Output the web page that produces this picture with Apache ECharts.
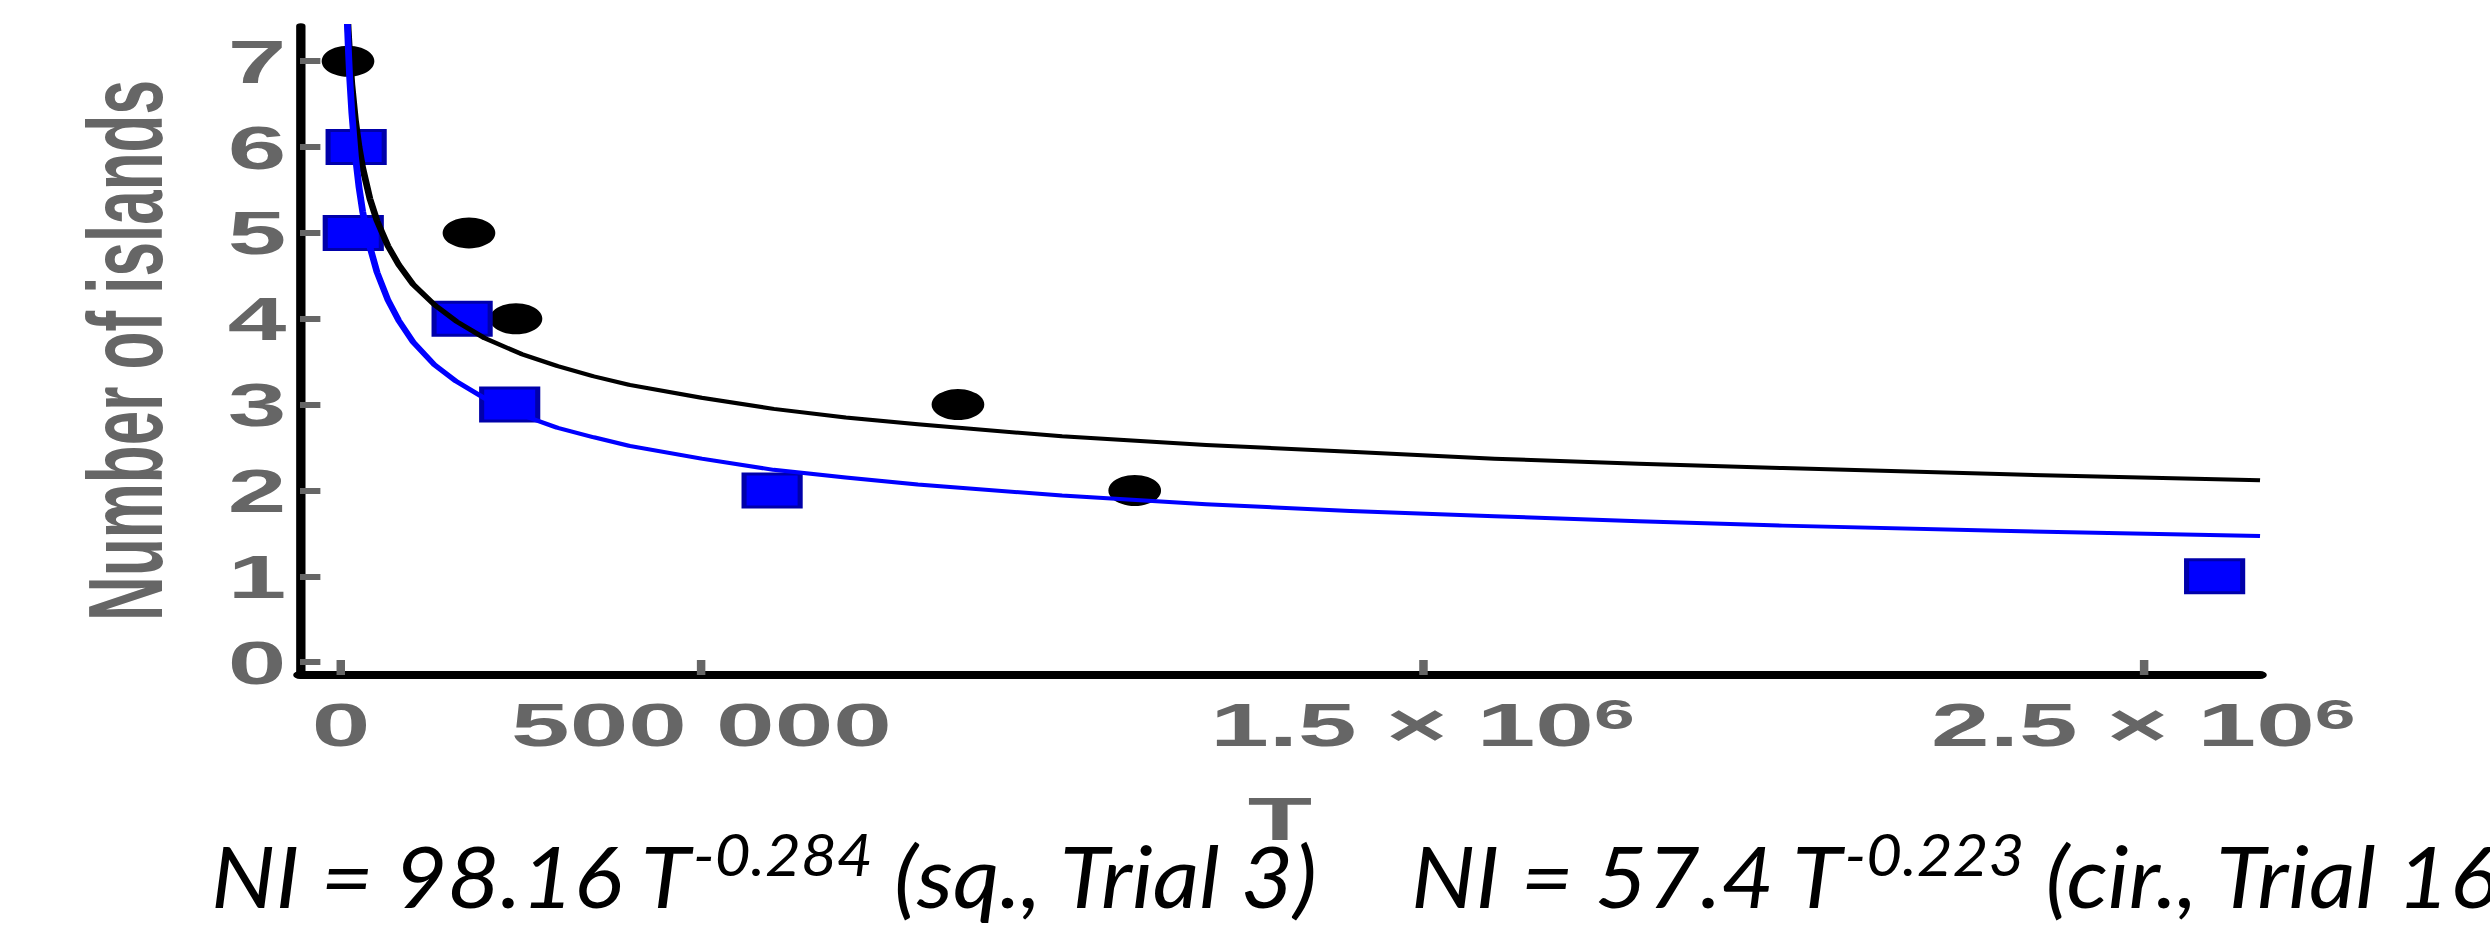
<!DOCTYPE html>
<html>
<head>
<meta charset="utf-8">
<script src="https://cdn.jsdelivr.net/npm/echarts@6/dist/echarts.min.js"></script>
<style>
html,body{margin:0;padding:0;background:#fff;overflow:hidden;width:2490px;height:934px;}
#chart{position:absolute;left:0;top:0;width:1465px;height:934px;transform:scaleX(1.69966);transform-origin:0 0;}
</style>
</head>
<body>
<div id="chart"></div>
<script>
// ---- data ----
const circT  = [9700, 177500, 242700, 855800, 1101000];
const circNI = [7, 5, 4, 3, 2];
const sqT    = [21000, 17000, 168000, 234000, 598000, 2599000];
const sqNI   = [6, 5, 4, 3, 2, 1];
// fitted curves as traced on the picture
const fitT     = [5000, 7000, 8000, 9000, 10000, 12000, 15000, 20000, 25000, 30000, 40000, 50000, 65000, 80000, 100000, 130000, 160000, 200000, 250000, 300000, 350000, 400000, 500000, 600000, 700000, 800000, 1000000, 1200000, 1400000, 1600000, 1800000, 2000000, 2300000, 2662000];
const fitCirNI = [8.59, 7.97, 7.74, 7.54, 7.36, 7.07, 6.73, 6.31, 6.00, 5.76, 5.40, 5.14, 4.85, 4.63, 4.40, 4.16, 3.97, 3.77, 3.59, 3.45, 3.33, 3.23, 3.08, 2.95, 2.85, 2.77, 2.63, 2.53, 2.45, 2.37, 2.31, 2.26, 2.19, 2.12];
const fitSqNI  = [8.74, 7.94, 7.65, 7.39, 7.18, 6.81, 6.40, 5.89, 5.53, 5.25, 4.84, 4.54, 4.22, 3.98, 3.73, 3.46, 3.27, 3.07, 2.88, 2.73, 2.62, 2.52, 2.37, 2.24, 2.15, 2.07, 1.94, 1.84, 1.76, 1.70, 1.64, 1.59, 1.53, 1.47];
// ticks
const xTickValues = [0, 500000, 1500000, 2500000];
const xTickBase   = ['0', '500 000', '1.5 × 10', '2.5 × 10'];
const xTickExp    = ['', '', '6', '6'];
const yTickValues = [0, 1, 2, 3, 4, 5, 6, 7];
const yTitle = 'Number of islands';
const xTitle = 'T';
const eq1 = {coef: 'NI = 98.16 T', exp: '-0.284', tail: ' (sq., Trial 3)'};
const eq2 = {coef: 'NI = 57.4 T', exp: '-0.223', tail: ' (cir., Trial 16)'};

const S = 1.69966; // horizontal stretch of the picture
const gray = '#666666';
const tickFont = 'Liberation Sans';

function zip(a, b) { return a.map((v, i) => [v, b[i]]); }

const eqRich = {
  m: {fontFamily: 'Lato', fontStyle: 'italic', fontSize: 85, lineHeight: 100, color: '#000'},
  s: {fontFamily: 'Lato', fontStyle: 'italic', fontSize: 58, lineHeight: 65, verticalAlign: 'top', color: '#000'}
};
function eqText(e) { return '{m|' + e.coef + '}{s|' + e.exp + '}{m|' + e.tail + '}'; }
const eqScale = 1.068 / S;

const chart = echarts.init(document.getElementById('chart'), null, {renderer: 'svg'});
chart.setOption({
  backgroundColor: '#ffffff',
  animation: false,
  grid: {left: 176.5, right: 135.3, top: 26, bottom: 259, containLabel: false, outerBoundsMode: 'none'},
  xAxis: {
    type: 'value', min: -56900, max: 2662000,
    name: xTitle, nameLocation: 'middle', nameGap: 112,
    nameTextStyle: {color: gray, fontFamily: tickFont, fontWeight: 'bold', fontSize: 62},
    axisLine: {show: true, onZero: false, lineStyle: {color: '#000', width: 8}},
    axisTick: {show: true, inside: true, length: 15, customValues: xTickValues, lineStyle: {color: gray, width: 5}},
    axisLabel: {
      show: true, margin: 18, customValues: xTickValues,
      formatter: function (v) {
        const i = xTickValues.indexOf(v);
        if (i < 0) return '';
        return '{b|' + xTickBase[i] + '}' + (xTickExp[i] ? '{s|' + xTickExp[i] + '}' : '');
      },
      rich: {
        b: {color: gray, fontFamily: tickFont, fontWeight: 'bold', fontSize: 62, lineHeight: 62},
        s: {color: gray, fontFamily: tickFont, fontWeight: 'bold', fontSize: 43, lineHeight: 30, verticalAlign: 'top'}
      }
    },
    splitLine: {show: false}
  },
  yAxis: {
    type: 'value', min: -0.15, max: 7.41,
    name: yTitle, nameLocation: 'middle', nameGap: 72,
    nameTextStyle: {color: gray, fontFamily: tickFont, fontWeight: 'bold', fontSize: 62},
    axisLine: {show: true, onZero: false, lineStyle: {color: '#000', width: 5.5}},
    axisTick: {show: true, inside: true, length: 12, customValues: yTickValues, lineStyle: {color: gray, width: 6}},
    axisLabel: {show: true, margin: 8, customValues: yTickValues, color: gray, fontFamily: tickFont, fontWeight: 'bold', fontSize: 62, padding: [12, 0, 0, 0]},
    splitLine: {show: false}
  },
  series: [
    {type: 'scatter', name: 'cir.', data: zip(circT, circNI), symbol: 'circle', symbolSize: 31,
     itemStyle: {color: '#000', opacity: 1}, z: 2},
    {type: 'scatter', name: 'sq.', data: zip(sqT, sqNI), symbol: 'rect', symbolSize: 33,
     itemStyle: {color: '#0000ff', borderColor: '#0000aa', borderWidth: 3, opacity: 1}, z: 2},
    {type: 'line', name: 'cir. fit', data: zip(fitT, fitCirNI), showSymbol: false, smooth: false, clip: true,
     lineStyle: {color: '#000', width: 4, join: 'round'}, z: 3},
    {type: 'line', name: 'sq. fit', data: zip(fitT, fitSqNI), showSymbol: false, smooth: false, clip: true,
     lineStyle: {color: '#0000ff', width: 4, join: 'round'}, z: 4}
  ],
  graphic: [
    {type: 'text', x: 211 / S, y: 825, scaleX: eqScale, silent: true,
     style: {text: eqText(eq1), rich: eqRich, verticalAlign: 'top', align: 'left', fill: '#000'}},
    {type: 'text', x: 1411 / S, y: 825, scaleX: eqScale, silent: true,
     style: {text: eqText(eq2), rich: eqRich, verticalAlign: 'top', align: 'left', fill: '#000'}}
  ]
});
</script>
</body>
</html>
